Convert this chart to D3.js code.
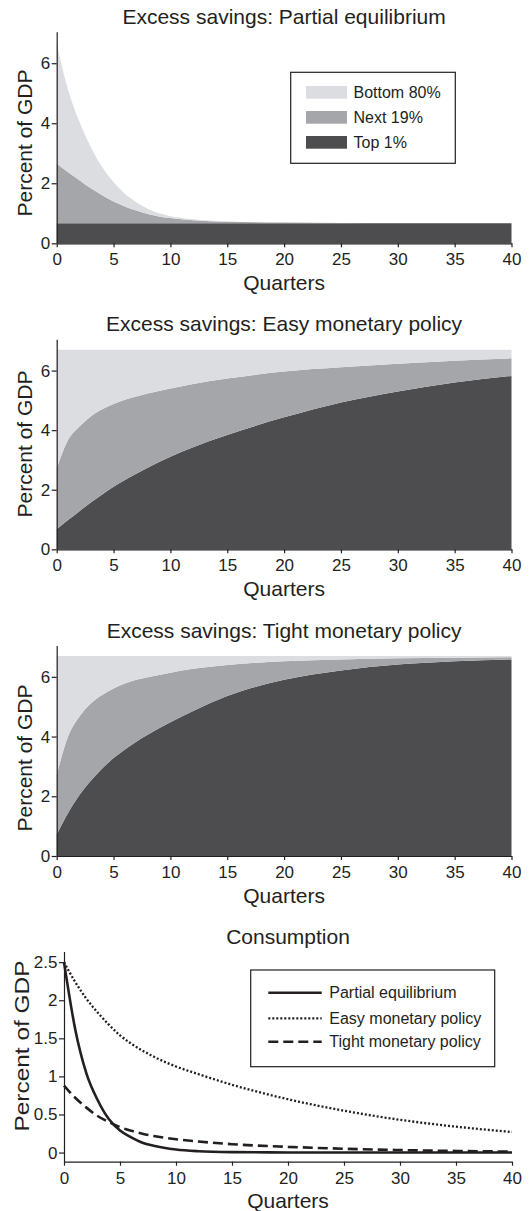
<!DOCTYPE html>
<html>
<head>
<meta charset="utf-8">
<script src="https://cdn.jsdelivr.net/npm/d3@7/dist/d3.min.js"></script>
<style>
    body { margin: 0; background: #fff; }
    svg { display: block; font-family: "Liberation Sans", Arial, sans-serif; }
    .axis path, .axis line { stroke: #231f20; stroke-width: 1.2; }
    .axis text { fill: #231f20; font-size: 17px; font-family: "Liberation Sans", Arial, sans-serif; }
</style>
</head>
<body>
<div id="chart"></div>
<script>
var quarters = [0, 1, 2, 3, 4, 5, 6, 7, 8, 10, 12, 15, 20, 25, 30, 35, 40];
var xTicks = [0, 5, 10, 15, 20, 25, 30, 35, 40];

var groups = ['Top 1%', 'Next 19%', 'Bottom 80%'];
var groupColors = ['#4d4d4f', '#a5a6a9', '#dcdde0'];

// excess savings by group, percent of GDP
var partialTop1 = [0.67, 0.67, 0.67, 0.67, 0.67, 0.67, 0.67, 0.67, 0.67, 0.67, 0.67, 0.67, 0.67, 0.67, 0.67, 0.67, 0.67];
var partialNext19 = [1.98, 1.70, 1.43, 1.16, 0.93, 0.72, 0.56, 0.42, 0.31, 0.17, 0.10, 0.05, 0.02, 0.01, 0, 0, 0];
var partialBottom80 = [4.0, 2.75, 1.95, 1.38, 0.94, 0.65, 0.42, 0.28, 0.17, 0.06, 0.03, 0.01, 0, 0, 0, 0, 0];

var easyTop1 = [0.67, 0.98, 1.28, 1.57, 1.84, 2.10, 2.33, 2.54, 2.74, 3.11, 3.43, 3.84, 4.43, 4.93, 5.30, 5.60, 5.82];
var easyNext19 = [2.05, 2.69, 2.84, 2.89, 2.86, 2.78, 2.69, 2.59, 2.49, 2.29, 2.12, 1.89, 1.54, 1.18, 0.93, 0.73, 0.59];
var easyBottom80 = [3.98, 3.03, 2.58, 2.24, 2.00, 1.82, 1.68, 1.57, 1.47, 1.30, 1.15, 0.97, 0.73, 0.59, 0.47, 0.37, 0.29];

var tightTop1 = [0.72, 1.44, 2.04, 2.52, 2.93, 3.28, 3.57, 3.83, 4.06, 4.48, 4.86, 5.36, 5.90, 6.21, 6.41, 6.52, 6.58];
var tightNext19 = [2.0, 2.56, 2.63, 2.59, 2.46, 2.33, 2.21, 2.07, 1.93, 1.66, 1.41, 1.04, 0.62, 0.37, 0.21, 0.12, 0.08];
var tightBottom80 = [3.98, 2.70, 2.03, 1.59, 1.31, 1.09, 0.92, 0.80, 0.71, 0.56, 0.43, 0.30, 0.18, 0.12, 0.08, 0.06, 0.04];

// consumption response, percent of GDP
var consPartial = [2.5, 1.62, 1.04, 0.69, 0.44, 0.29, 0.20, 0.13, 0.09, 0.04, 0.018, 0.006, 0.001, 0, 0, 0, 0];
var consEasy = [2.5, 2.24, 2.02, 1.84, 1.68, 1.54, 1.43, 1.34, 1.26, 1.13, 1.03, 0.89, 0.70, 0.55, 0.43, 0.34, 0.27];
var consTight = [0.88, 0.72, 0.59, 0.48, 0.40, 0.335, 0.285, 0.248, 0.218, 0.175, 0.145, 0.11, 0.075, 0.05, 0.033, 0.021, 0.013];

var consNames = ['Partial equilibrium', 'Easy monetary policy', 'Tight monetary policy'];
var consDash = ['none', '2,2', '10,5'];

var width = 530, height = 1211;
var ink = '#231f20';

var svg = d3.select('#chart').append('svg')
    .attr('width', width)
    .attr('height', height);

var panels = [
    { title: 'Excess savings: Partial equilibrium', top: 31.7, bottom: 243.3, labelY: 143,
      series: [partialTop1, partialNext19, partialBottom80], legend: true },
    { title: 'Excess savings: Easy monetary policy', top: 339.3, bottom: 549.3, labelY: 444,
      series: [easyTop1, easyNext19, easyBottom80] },
    { title: 'Excess savings: Tight monetary policy', top: 645.5, bottom: 856, labelY: 758,
      series: [tightTop1, tightNext19, tightBottom80] }
];

function addTitles(g, x, top, bottom, title, labelX, labelY, labelLen) {
    var cx = (x.range()[0] + x.range()[1]) / 2;
    g.append('text')
        .attr('x', cx)
        .attr('y', top - 8)
        .attr('text-anchor', 'middle')
        .attr('fill', ink)
        .style('font-size', '21px')
        .text(title);

    g.append('text')
        .attr('x', cx)
        .attr('y', bottom + 46.5)
        .attr('text-anchor', 'middle')
        .attr('fill', ink)
        .style('font-size', '21px')
        .text('Quarters');

    var yl = g.append('text')
        .attr('transform', 'translate(' + labelX + ',' + labelY + ') rotate(-90)')
        .attr('text-anchor', 'middle')
        .attr('fill', ink)
        .style('font-size', '21px')
        .text('Percent of GDP');
    if (labelLen) {
        yl.attr('textLength', labelLen).attr('lengthAdjust', 'spacingAndGlyphs');
    }
}

function drawSavings(p) {
    var g = svg.append('g');
    var x = d3.scaleLinear().domain([0, 40]).range([56.7, 511.5]);
    var y = d3.scaleLinear().domain([0, 7.05]).range([p.bottom, p.top]);

    var rows = quarters.map(function(q, i) {
        var r = { q: q };
        groups.forEach(function(k, j) { r[k] = p.series[j][i]; });
        return r;
    });

    var stack = d3.stack().keys(groups);
    var area = d3.area()
        .x(function(d) { return x(d.data.q); })
        .y0(function(d) { return y(d[0]); })
        .y1(function(d) { return y(d[1]); })
        .curve(d3.curveMonotoneX);

    g.selectAll('path.layer')
        .data(stack(rows))
        .enter().append('path')
        .attr('class', 'layer')
        .attr('fill', function(d, i) { return groupColors[i]; })
        .attr('d', area);

    g.append('g')
        .attr('class', 'axis')
        .attr('transform', 'translate(0,' + p.bottom + ')')
        .call(d3.axisBottom(x).tickValues(xTicks).tickFormat(d3.format('d'))
            .tickSize(4).tickPadding(6).tickSizeOuter(0));

    g.append('g')
        .attr('class', 'axis')
        .attr('transform', 'translate(' + x(0) + ',0)')
        .call(d3.axisLeft(y).tickValues([0, 2, 4, 6]).tickFormat(d3.format('d'))
            .tickSize(5).tickPadding(1.5).tickSizeOuter(0));

    addTitles(g, x, p.top, p.bottom, p.title, 32, p.labelY);

    if (p.legend) {
        var lg = g.append('g');
        lg.append('rect')
            .attr('x', 290.7).attr('y', 72.3)
            .attr('width', 164.6).attr('height', 91)
            .attr('fill', '#fff')
            .attr('stroke', ink)
            .attr('stroke-width', 1.2);
        // legend lists the groups top-down: Bottom 80%, Next 19%, Top 1%
        var order = [2, 1, 0];
        order.forEach(function(j, i) {
            var cy = 92.3 + i * 25;
            lg.append('rect')
                .attr('x', 306).attr('y', cy - 6.3)
                .attr('width', 41).attr('height', 12.7)
                .attr('fill', groupColors[j]);
            lg.append('text')
                .attr('x', 353.5).attr('y', cy)
                .attr('dy', '0.35em')
                .attr('fill', ink)
                .style('font-size', '16px')
                .text(groups[j]);
        });
    }
}

panels.forEach(drawSavings);

// consumption panel
(function() {
    var top = 951.5, bottom = 1161.7;
    var g = svg.append('g');
    var x = d3.scaleLinear().domain([0, 40]).range([64, 512]);
    var y = d3.scaleLinear().domain([-0.12, 2.64]).range([bottom, top]);

    var seriesList = [consPartial, consEasy, consTight];
    var line = d3.line()
        .x(function(d, i) { return x(quarters[i]); })
        .y(function(d) { return y(d); })
        .curve(d3.curveMonotoneX);

    g.selectAll('path.cons')
        .data(seriesList)
        .enter().append('path')
        .attr('class', 'cons')
        .attr('fill', 'none')
        .attr('stroke', ink)
        .attr('stroke-width', function(d, i) { return i === 1 ? 2.3 : 2.6; })
        .attr('stroke-dasharray', function(d, i) { return consDash[i]; })
        .attr('d', line);

    g.append('g')
        .attr('class', 'axis')
        .attr('transform', 'translate(0,' + bottom + ')')
        .call(d3.axisBottom(x).tickValues(xTicks).tickFormat(d3.format('d'))
            .tickSize(4).tickPadding(6).tickSizeOuter(0));

    g.append('g')
        .attr('class', 'axis')
        .attr('transform', 'translate(' + x(0) + ',0)')
        .call(d3.axisLeft(y).tickValues([0, 0.5, 1, 1.5, 2, 2.5])
            .tickFormat(function(d) { return String(d); })
            .tickSize(5).tickPadding(1.5).tickSizeOuter(0));

    addTitles(g, x, top, bottom, 'Consumption', 29, 1046, 171);

    var lg = g.append('g');
    lg.append('rect')
        .attr('x', 250.7).attr('y', 970)
        .attr('width', 244).attr('height', 96.7)
        .attr('fill', '#fff')
        .attr('stroke', ink)
        .attr('stroke-width', 1.2);
    var rowsY = [992.7, 1018.3, 1041.7];
    consNames.forEach(function(name, i) {
        lg.append('line')
            .attr('x1', 268.3).attr('x2', 321.7)
            .attr('y1', rowsY[i]).attr('y2', rowsY[i])
            .attr('stroke', ink)
            .attr('stroke-width', i === 1 ? 2.3 : 2.6)
            .attr('stroke-dasharray', consDash[i]);
        lg.append('text')
            .attr('x', 329.3).attr('y', rowsY[i])
            .attr('dy', '0.35em')
            .attr('fill', ink)
            .style('font-size', '16px')
            .text(name);
    });
})();
</script>
</body>
</html>
